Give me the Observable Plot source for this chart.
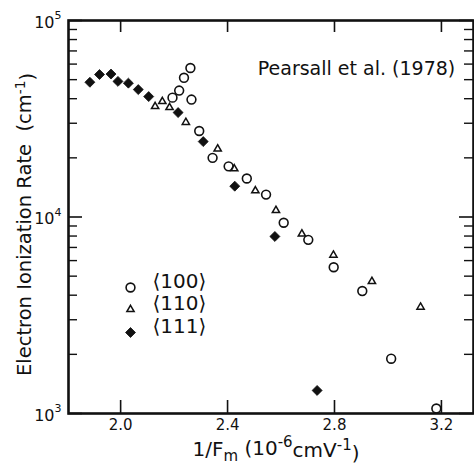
<!DOCTYPE html>
<html><head><meta charset="utf-8">
<script src="https://cdn.jsdelivr.net/npm/d3@7"></script>
<script src="https://cdn.jsdelivr.net/npm/@observablehq/plot@0.6"></script>
<style>body{margin:0;background:#fff}svg{display:block}</style>
</head><body><div id="chart"></div>
<script>
// <100> open circles
const x100 = [2.261, 2.237, 2.219, 2.194, 2.265, 2.294, 2.344, 2.404, 2.472, 2.544, 2.610, 2.702, 2.797, 2.904, 3.012, 3.181];
const y100 = [57300, 51100, 44000, 40500, 39600, 27400, 20000, 18100, 15700, 13000, 9350, 7650, 5550, 4200, 1900, 1060];
// <110> open triangles
const x110 = [2.129, 2.156, 2.183, 2.244, 2.363, 2.425, 2.504, 2.581, 2.678, 2.796, 2.940, 3.122];
const y110 = [36500, 38700, 36100, 30300, 22200, 17600, 13600, 10800, 8200, 6400, 4700, 3480];
// <111> filled diamonds
const x111 = [1.885, 1.921, 1.964, 1.990, 2.029, 2.066, 2.105, 2.215, 2.309, 2.427, 2.577, 2.735];
const y111 = [48500, 53100, 53400, 49000, 48000, 44500, 41000, 34000, 24200, 14350, 7960, 1310];

const xTicks = [2.0, 2.4, 2.8, 3.2];
const yMajor = [1e3, 1e4, 1e5];
const yExponents = ["3", "4", "5"];
const yMinor = [2e3,3e3,4e3,5e3,6e3,7e3,8e3,9e3,2e4,3e4,4e4,5e4,6e4,7e4,8e4,9e4];
const legendLabels = ["⟨100⟩", "⟨110⟩", "⟨111⟩"];
const annotation = "Pearsall et al. (1978)";

const toPts = (xs, ys) => xs.map((x, i) => ({x, y: ys[i]}));
const d100 = toPts(x100, y100), d110 = toPts(x110, y110), d111 = toPts(x111, y111);

const W = 474, H = 464, mL = 68, mR = 1, mT = 20, mB = 51;
const fw = W - mL - mR, fh = H - mT - mB;
const ink = "#111";

const circleStyle = {symbol: "circle", r: 4.4, fill: "none", stroke: ink, strokeWidth: 1.6};
const triStyle = {symbol: "triangle", r: 2.7, fill: "none", stroke: ink, strokeWidth: 1.5};
const diaStyle = {symbol: "diamond2", r: 4.5, fill: ink, stroke: ink, strokeWidth: 0.8};
const legendStyles = [circleStyle, triStyle, diaStyle];
const legendRowsFromBottom = [126, 104, 81];

const legendMarks = [];
legendLabels.forEach((lab, i) => {
  legendMarks.push(Plot.dot([0], {frameAnchor: "bottom-left", dx: 62, dy: -legendRowsFromBottom[i], ...legendStyles[i]}));
  legendMarks.push(Plot.text([lab], {frameAnchor: "bottom-left", dx: 84, dy: -legendRowsFromBottom[i], textAnchor: "start", fontSize: 20, fill: ink}));
});

const plot = Plot.plot({
  width: W, height: H,
  marginLeft: mL, marginRight: mR, marginTop: mT, marginBottom: mB,
  style: {fontFamily: "DejaVu Sans", color: ink, background: "#fff"},
  x: {domain: [1.805, 3.32]},
  y: {type: "log", domain: [1e3, 1e5], axis: null},
  marks: [
    // inward ticks
    Plot.tickX(xTicks, {x: d => d, insetTop: fh - 13, stroke: ink, strokeWidth: 1.6}),
    Plot.tickX(xTicks, {x: d => d, insetBottom: fh - 12, stroke: ink, strokeWidth: 1.6}),
    Plot.tickY(yMajor, {y: d => d, insetRight: fw - 14, stroke: ink, strokeWidth: 1.6}),
    Plot.tickY(yMinor, {y: d => d, insetRight: fw - 9, stroke: ink, strokeWidth: 1.4}),
    Plot.tickY(yMajor, {y: d => d, insetLeft: fw - 14, stroke: ink, strokeWidth: 1.6}),
    Plot.tickY(yMinor, {y: d => d, insetLeft: fw - 9, stroke: ink, strokeWidth: 1.4}),
    Plot.frame({stroke: ink, strokeWidth: 2.6}),
    Plot.axisX({ticks: xTicks, tickSize: 0, tickPadding: 6, tickFormat: d3.format(".1f"), fontSize: 15, label: null}),
    Plot.text(yMajor, {y: d => d, frameAnchor: "left", text: () => "10", textAnchor: "end", dx: -14, dy: 2, fontSize: 16, fill: ink}),
    Plot.text(yMajor, {y: d => d, frameAnchor: "left", text: yExponents, textAnchor: "start", dx: -14, dy: -5, fontSize: 11, fill: ink}),
    Plot.text([annotation], {frameAnchor: "top-left", dx: 288, dy: 41, textAnchor: "middle", fontSize: 19, fill: ink}),
    Plot.dot(d100, {x: "x", y: "y", ...circleStyle}),
    Plot.dot(d110, {x: "x", y: "y", ...triStyle}),
    Plot.dot(d111, {x: "x", y: "y", ...diaStyle}),
    ...legendMarks
  ]
});

document.getElementById("chart").appendChild(plot);

// axis titles with sub/superscripts
const svg = d3.select(plot);
const yt = svg.append("text")
  .attr("transform", `translate(31,${(mT + H - mB) / 2 + 8}) rotate(-90)`)
  .attr("text-anchor", "middle").attr("font-size", 19.5).attr("fill", ink)
  .style("white-space", "pre");
yt.append("tspan").text("Electron Ionization Rate  (cm");
yt.append("tspan").attr("dy", "-0.45em").attr("font-size", "0.7em").text("-1");
yt.append("tspan").attr("dy", "0.45em").text(")");

const xt = svg.append("text")
  .attr("x", 276).attr("y", 456)
  .attr("text-anchor", "middle").attr("font-size", 20).attr("fill", ink)
  .style("white-space", "pre");
xt.append("tspan").text("1/F");
xt.append("tspan").attr("dy", "0.3em").attr("font-size", "0.75em").text("m");
xt.append("tspan").attr("dy", "-0.3em").text(" (10");
xt.append("tspan").attr("dy", "-0.5em").attr("font-size", "0.75em").text("-6");
xt.append("tspan").attr("dy", "0.5em").text("cmV");
xt.append("tspan").attr("dy", "-0.5em").attr("font-size", "0.75em").text("-1");
xt.append("tspan").attr("dy", "0.5em").text(")");
</script>
</body></html>
